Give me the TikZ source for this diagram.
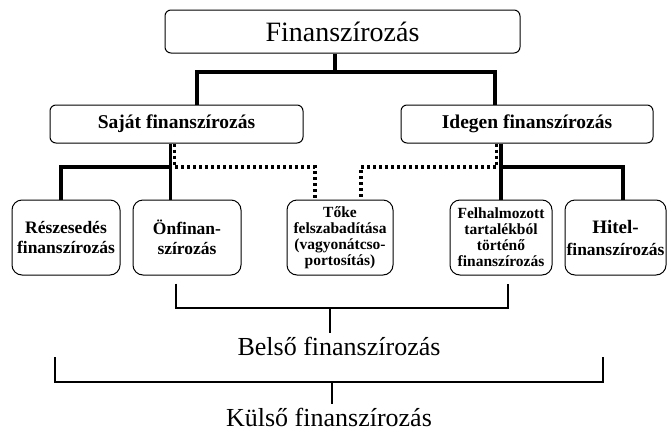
\documentclass[tikz,border=0pt]{standalone}
\usepackage{fontspec}
\setmainfont{Liberation Serif}
\usepackage{tikz}
\usetikzlibrary{positioning,calc}

\begin{document}
\begin{tikzpicture}[x=1pt,y=-1pt,
    box/.style={draw,line width=1pt,rounded corners=6pt,align=center,inner sep=1pt},
    leaf/.style={box,rounded corners=10pt,minimum height=75pt,font=\bfseries\fontsize{17.5}{20}\selectfont},
    link/.style={line width=3.4pt},
    dotlink/.style={line width=3.2pt,dash pattern=on 3pt off 3pt},
    brace/.style={line width=2.4pt},
    sumlabel/.style={font=\fontsize{26}{28}\selectfont,anchor=base}]
  \useasboundingbox (0,0) rectangle (668,434);

  \node[box,minimum width=355pt,minimum height=43pt,font=\fontsize{28}{30}\selectfont] (fin) at (342.5,31.5) {Finanszírozás};
  \node[box,minimum width=253pt,minimum height=38pt,font=\bfseries\fontsize{19.5}{22}\selectfont] (own) at (176.5,124) {Saját finanszírozás};
  \node[box,minimum width=252pt,minimum height=38pt,font=\bfseries\fontsize{19.5}{22}\selectfont] (foreign) at (527,124) {Idegen finanszírozás};

  \node[leaf,minimum width=108pt] (part) at (66,237.5) {Részesedés\\finanszírozás};
  \node[leaf,minimum width=108pt] (self) at (187,237.5) {Önfinan-\\szírozás};
  \node[leaf,minimum width=106pt,font=\bfseries\fontsize{15.5}{16}\selectfont] (equity) at (340,237.5) {Tőke\\felszabadítása\\(vagyonátcso-\\portosítás)};
  \node[leaf,minimum width=102pt,font=\bfseries\fontsize{15.5}{16}\selectfont] (reserve) at (501,237.5) {Felhalmozott\\tartalékból\\történő\\finanszírozás};
  \node[leaf,minimum width=101pt] (loan) at (615.5,237.5) {{\fontsize{19}{19}\selectfont Hitel-}\\[2pt]finanszírozás};

  \node[sumlabel] (inner) at (339,355) {Belső finanszírozás};
  \node[sumlabel] (outer) at (329,426) {Külső finanszírozás};

  % top level
  \coordinate (tM) at (335,72);
  \coordinate (tL) at (197,72);
  \coordinate (tR) at (495,72);
  \draw[link] (tM |- fin.south) -- (tM);
  \draw[link] (own.north -| tL) -- (tL) -- (tR) -- (foreign.north -| tR);

  % own side
  \coordinate (oJ) at (170.5,167);
  \coordinate (oL) at (61,167);
  \draw[link] (own.south -| oJ) -- (self.north -| oJ);
  \draw[link] (oJ) -- (oL) -- (part.north -| oL);

  % foreign side
  \coordinate (fJ) at (501,167);
  \coordinate (fR) at (623,167);
  \draw[link] (foreign.south -| fJ) -- (reserve.north -| fJ);
  \draw[link] (fJ) -- (fR) -- (loan.north -| fR);

  % dotted links to the middle box
  \coordinate (dA) at (174.5,167);
  \coordinate (dB) at (315,167);
  \coordinate (dC) at (496.5,167);
  \coordinate (dD) at (361,167);
  \draw[dotlink] (own.south -| dA) -- (dA) -- (dB) -- (equity.north -| dB);
  \draw[dotlink] (foreign.south -| dC) -- (dC) -- (dD) -- (equity.north -| dD);

  % brackets
  \coordinate (bL) at (176,308);
  \coordinate (bR) at (508,308);
  \coordinate (bM) at (330,308);
  \draw[brace] ($(self.south -| bL)+(0,8)$) -- (bL) -- (bR) -- ($(reserve.south -| bR)+(0,8)$);
  \draw[brace] (bM) -- (bM |- inner.north);

  \coordinate (cL) at (55,382);
  \coordinate (cR) at (603,382);
  \coordinate (cM) at (332,382);
  \draw[brace] ($(cL)+(0,-25)$) -- (cL) -- (cR) -- ($(cR)+(0,-25)$);
  \draw[brace] (cM) -- (cM |- outer.north);
\end{tikzpicture}
\end{document}
